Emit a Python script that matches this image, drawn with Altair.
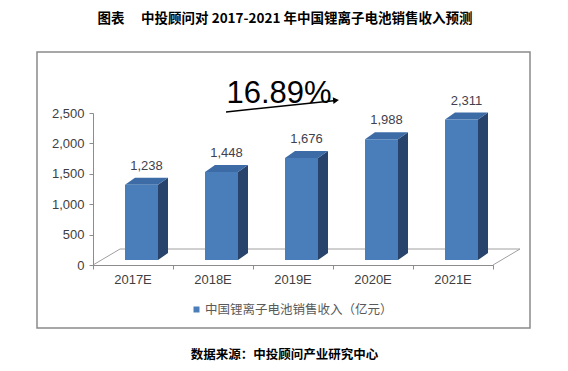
import altair as alt
import pandas as pd

# ---- data ----
categories = ["2017E", "2018E", "2019E", "2020E", "2021E"]
values = [1238, 1448, 1676, 1988, 2311]
value_labels = ["1,238", "1,448", "1,676", "1,988", "2,311"]
y_ticks = [0, 500, 1000, 1500, 2000, 2500]
title_text = "图表\u3000 中投顾问对 2017-2021 年中国锂离子电池销售收入预测"
legend_text = "中国锂离子电池销售收入（亿元）"
source_text = "数据来源：中投顾问产业研究中心"
cagr_text = "16.89%"

# ---- style constants (3-D look) ----
W, H = 400, 152
FRONT_L, FRONT_R = 0.4, 0.8125    # bar front face within category unit
DX = 0.125                        # depth shift in x units
DY = 115                          # depth shift in value units
BASE = 82                         # front face lifted from the floor edge
FRONT_C, TOP_C, SIDE_C = "#4A7EBB", "#3D6BA6", "#28446C"
NUM_FONT = "Liberation Sans"
CJK_FONT = "Noto Sans CJK SC"

front_rows, side_rows, top_rows, lab_rows = [], [], [], []
for i, (c, v, l) in enumerate(zip(categories, values, value_labels)):
    front_rows.append(dict(cat=c, xa=i + FRONT_L, xb=i + FRONT_R, lo=BASE, hi=v + BASE))
    side_rows += [
        dict(cat=c, xa=i + FRONT_R, lo=BASE, hi=v + BASE),
        dict(cat=c, xa=i + FRONT_R + DX, lo=BASE + DY, hi=v + BASE + DY),
    ]
    top_rows += [
        dict(cat=c, xa=i + FRONT_L, lo=v + BASE, hi=v + BASE),
        dict(cat=c, xa=i + FRONT_L + DX, lo=v + BASE, hi=v + BASE + DY),
        dict(cat=c, xa=i + FRONT_R, lo=v + BASE, hi=v + BASE + DY),
        dict(cat=c, xa=i + FRONT_R + DX, lo=v + BASE + DY, hi=v + BASE + DY),
    ]
    lab_rows.append(dict(cat=c, xa=i + (FRONT_L + FRONT_R + DX) / 2, lo=v + BASE + DY,
                         label=l, cx=i + 0.5))

front = pd.DataFrame(front_rows)
side = pd.DataFrame(side_rows)
top = pd.DataFrame(top_rows)
labs = pd.DataFrame(lab_rows)

xs = alt.Scale(domain=[0, 5], nice=False, zero=False)
ys = alt.Scale(domain=[0, 2500], nice=False)

x_axis = alt.Axis(values=[0, 1, 2, 3, 4, 5], labels=False, ticks=True, tickSize=4,
                  domainColor="#8C8C8C", tickColor="#8C8C8C", grid=False, title=None, zindex=1)
y_axis = alt.Axis(values=y_ticks, format=",.0f", tickSize=4, labelPadding=5, labelFont=NUM_FONT,
                  labelFontSize=13, labelColor="#404040", domainColor="#8C8C8C",
                  tickColor="#8C8C8C", grid=False, title=None, zindex=1)


def X(field):
    return alt.X(field, scale=xs, axis=x_axis, title=None)


def Y(field):
    return alt.Y(field, scale=ys, axis=y_axis, title=None)


base_df = alt.Data(values=[{"a": 1}])

frame = alt.Chart(base_df).mark_rect(fillOpacity=0, stroke="#8A8A8A", strokeWidth=1.5).encode(
    x=alt.value(-56), x2=alt.value(437), y=alt.value(-61), y2=alt.value(215))

floor = alt.layer(
    alt.Chart(base_df).mark_rule(color="#A0A0A0", strokeWidth=1).encode(
        x=alt.value(0), x2=alt.value(27), y=alt.value(H), y2=alt.value(H - 16)),
    alt.Chart(base_df).mark_rule(color="#A0A0A0", strokeWidth=1).encode(
        x=alt.value(27), x2=alt.value(W + 27), y=alt.value(H - 16), y2=alt.value(H - 16)),
    alt.Chart(base_df).mark_rule(color="#A0A0A0", strokeWidth=1).encode(
        x=alt.value(W), x2=alt.value(W + 27), y=alt.value(H), y2=alt.value(H - 16)),
)

side_m = alt.Chart(side).mark_area(color=SIDE_C, orient="vertical", opacity=1).encode(
    x=X("xa:Q"), y=Y("lo:Q"), y2="hi:Q", detail="cat:N")

top_m = alt.Chart(top).mark_area(color=TOP_C, orient="vertical", opacity=1).encode(
    x=X("xa:Q"), y=Y("lo:Q"), y2="hi:Q", detail="cat:N")

front_m = alt.Chart(front).mark_rect(color=FRONT_C).encode(
    x=X("xa:Q"), x2="xb:Q", y=Y("lo:Q"), y2="hi:Q")

val_m = alt.Chart(labs).mark_text(font=NUM_FONT, fontSize=13, color="#403F4F", dy=-12,
                                  baseline="middle").encode(
    x=X("xa:Q"), y=Y("lo:Q"), text="label:N")

cat_m = alt.Chart(labs).mark_text(font=NUM_FONT, fontSize=13, color="#404040",
                                  baseline="middle").encode(
    x=X("cx:Q"), y=alt.value(167), text="cat:N")

title_m = alt.Chart(base_df).mark_text(font=CJK_FONT, fontSize=13.5, fontWeight="bold",
                                       color="#000000", baseline="middle").encode(
    x=alt.value(192), y=alt.value(-94), text=alt.value(title_text))

cagr_m = alt.Chart(base_df).mark_text(font=NUM_FONT, fontSize=31,
                                      color="#000000", baseline="alphabetic").encode(
    x=alt.value(186), y=alt.value(-10), text=alt.value(cagr_text))

arrow_line = alt.Chart(base_df).mark_rule(color="#000000", strokeWidth=1.5).encode(
    x=alt.value(133), x2=alt.value(243), y=alt.value(-1), y2=alt.value(-12.5))
arrow_head = alt.Chart(base_df).mark_point(shape="triangle-right", filled=True, color="#000000",
                                           size=45, angle=354, opacity=1).encode(
    x=alt.value(243), y=alt.value(-12.6))

leg_sq = alt.Chart(base_df).mark_square(color=FRONT_C, size=36, opacity=1).encode(
    x=alt.value(103.5), y=alt.value(196.5))
leg_tx = alt.Chart(base_df).mark_text(font=CJK_FONT, fontSize=12.5, color="#595959",
                                      align="left", baseline="middle").encode(
    x=alt.value(112), y=alt.value(196.5), text=alt.value(legend_text))

src_m = alt.Chart(base_df).mark_text(font=CJK_FONT, fontSize=12.5, fontWeight="bold",
                                     color="#000000", baseline="middle").encode(
    x=alt.value(191.5), y=alt.value(242), text=alt.value(source_text))

chart = alt.layer(
    frame, floor, side_m, top_m, front_m, val_m, cat_m, title_m, cagr_m,
    arrow_line, arrow_head, leg_sq, leg_tx, src_m
).properties(
    width=W, height=H,
    autosize=alt.AutoSizeParams(type="none"),
    padding={"left": 85, "top": 105, "right": 67, "bottom": 98},
    background="white",
).configure_view(strokeWidth=0)

chart.save("out.html", embed_options={"renderer": "svg", "actions": False})
